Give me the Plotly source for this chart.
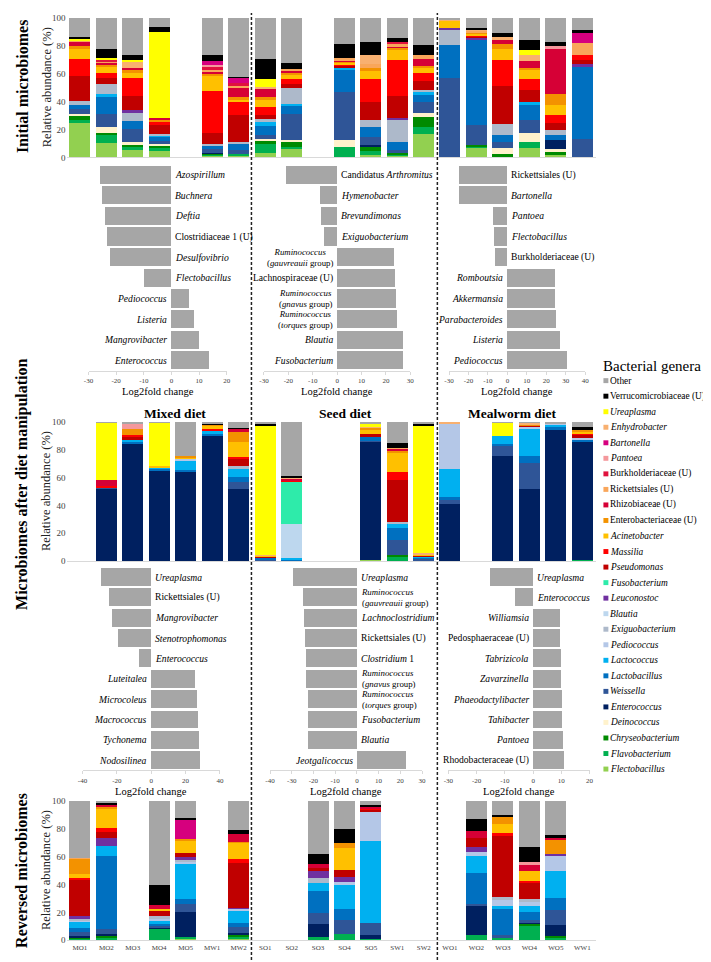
import plotly.graph_objects as go

W, H = 711, 962
FONT = "Liberation Serif, Times New Roman, serif"

# ---------------- genera (stack order bottom -> top) ----------------
GENERA = ["Flec", "Flav", "Chry", "Dein", "Ente", "Weis", "Lacb", "Lacc", "Pedi", "Exig",
          "Blau", "Leuc", "Fuso", "Pseu", "Mass", "Acin", "Entb", "Rhiz", "Rick", "Burk",
          "Pant", "Bart", "Enhy", "Urea", "Verr", "Oth"]
GENUS_NAMES = ["Flectobacillus", "Flavobacterium", "Chryseobacterium", "Deinococcus", "Enterococcus",
               "Weissella", "Lactobacillus", "Lactococcus", "Pediococcus", "Exiguobacterium",
               "Blautia", "Leuconostoc", "Fusobacterium", "Pseudomonas", "Massilia", "Acinetobacter",
               "Enterobacteriaceae (U)", "Rhizobiaceae (U)", "Rickettsiales (U)", "Burkholderiaceae (U)",
               "Pantoea", "Bartonella", "Enhydrobacter", "Ureaplasma", "Verrucomicrobiaceae (U)", "Other"]
GENUS_COLORS = ["#92D050", "#00B050", "#008A00", "#FFF2CC", "#002060", "#2F5597", "#0070C0", "#00B0F0",
                "#B4C7E7", "#ADB9CA", "#BDD7EE", "#7030A0", "#2EEBAA", "#C00000", "#FF0000", "#FFC000",
                "#F39200", "#D60036", "#F9A65A", "#E0123E", "#F4989C", "#D6007E", "#F8B070", "#FFFF00",
                "#000000", "#A6A6A6"]

SLOTS_MIXED = ["MO1", "MO2", "MO3", "MO4", "MO5", "MW1", "MW2"]
SLOTS_SEED = ["SO1", "SO2", "SO3", "SO4", "SO5", "SW1", "SW2"]
SLOTS_MEAL = ["WO1", "WO2", "WO3", "WO4", "WO5", "WW1"]

# ---------------- relative abundance (%) ----------------
initial = {
    "MO1": dict(Flec=25, Flav=2, Chry=3, Dein=1.5, Weis=3, Lacb=3, Exig=2.7, Pseu=18.4, Mass=11.8, Acin=7.1,
                Entb=2.4, Rhiz=3.3, Rick=1, Urea=0.9, Verr=1.4, Oth=13.5),
    "MO2": dict(Flec=10.6, Flav=5.9, Chry=1.4, Dein=4, Weis=9.5, Lacb=11.8, Lacc=2.4, Exig=7.1, Pseu=4, Mass=3.5,
                Acin=4.8, Entb=1.5, Rhiz=1.5, Rick=1, Burk=1, Urea=1, Verr=7, Oth=22),
    "MO3": dict(Flec=5.4, Flav=2.4, Chry=1.6, Dein=1.4, Weis=9.5, Lacb=5.9, Exig=5.9, Leuc=1.6, Pseu=10.2, Mass=13,
                Acin=3.5, Entb=2.4, Rhiz=1.6, Enhy=4.7, Urea=0.7, Verr=3.5, Oth=26.7),
    "MO4": dict(Flec=5, Flav=2, Chry=1.5, Dein=1.5, Weis=2, Lacb=3, Lacc=1, Exig=1, Pseu=6, Mass=3, Entb=1, Rhiz=1,
                Urea=62, Verr=3.5, Oth=6.5),
    "MW1": dict(Flec=1.4, Flav=1, Chry=0.5, Ente=0.5, Weis=2.5, Lacb=2, Exig=1.5, Pseu=8, Mass=30.6, Acin=10.6,
                Entb=1.4, Rhiz=1.5, Rick=1, Burk=2, Pant=2, Bart=3, Verr=3.8, Oth=26.7),
    "MW2": dict(Flec=1.4, Flav=1, Weis=3, Lacb=4.7, Exig=1, Pseu=19.7, Mass=9.5, Acin=1.4, Entb=1.3, Rhiz=7, Rick=1.5,
                Burk=2, Bart=3.5, Verr=1, Oth=42),
    "SO1": dict(Flec=3, Flav=7, Chry=2.4, Dein=1, Weis=2.4, Lacb=7, Lacc=2.8, Exig=1.9, Pseu=3, Mass=6, Acin=4.5,
                Entb=2.5, Rhiz=6, Enhy=1, Urea=6, Verr=14, Oth=29.5),
    "SO2": dict(Flec=6.6, Flav=1.2, Chry=3, Dein=1.6, Weis=19, Lacb=5.9, Lacc=1.2, Exig=11, Pseu=3, Mass=4, Acin=3,
                Entb=1.2, Rhiz=2, Rick=0.5, Verr=4.3, Oth=32.5),
    "SO4": dict(Flav=7.8, Dein=4.7, Weis=34.3, Lacb=16.5, Lacc=1, Pseu=1, Mass=1.5, Acin=1, Entb=1, Rhiz=1, Rick=1.2,
                Verr=10, Oth=19),
    "SO5": dict(Flec=1.9, Flav=2.4, Chry=3.5, Ente=1.2, Weis=5.9, Lacb=7, Exig=4.7, Pseu=13.5, Mass=16.5, Acin=5.4,
                Entb=2.4, Rick=2.4, Enhy=7, Verr=8.7, Oth=17.5),
    "SW1": dict(Flec=1.4, Flav=1, Chry=0.7, Weis=2.4, Lacb=5.9, Exig=16, Leuc=1, Pseu=16, Mass=25.3, Acin=7.3,
                Entb=1.7, Rhiz=1.2, Rick=1.2, Burk=1.7, Verr=3, Oth=14.2),
    "SW2": dict(Flec=16.5, Flav=5.4, Chry=7, Dein=3, Weis=7.6, Lacb=5.9, Lacc=1.2, Exig=1.9, Pseu=6.4, Mass=5.4,
                Acin=4, Entb=1.2, Rhiz=5.2, Rick=3, Verr=7, Oth=19.3),
    "WO1": dict(Flec=0.7, Weis=56, Lacb=23.6, Exig=11.8, Leuc=0.7, Acin=5.4, Enhy=0.3, Oth=1.5),
    "WO2": dict(Flec=6.6, Flav=1.5, Chry=0.5, Weis=14.7, Lacb=61, Lacc=0.5, Leuc=1, Pseu=0.8, Mass=1.2, Acin=1,
                Entb=1, Rick=1.2, Enhy=1, Verr=1, Oth=7),
    "WO3": dict(Chry=2.4, Dein=4.3, Weis=4.7, Lacb=4.7, Exig=7.6, Pseu=27.4, Mass=18.7, Acin=7.8, Entb=3.5, Rhiz=2.8,
                Enhy=2.6, Verr=2.4, Oth=11.1),
    "WO4": dict(Flec=6.6, Flav=4.7, Dein=6.6, Weis=8.7, Lacb=11.1, Lacc=2.4, Pseu=8.5, Mass=8, Acin=6.6, Entb=1.2,
                Rhiz=4.7, Enhy=4.7, Urea=3.5, Verr=6.6, Oth=16.1),
    "WO5": dict(Flec=2.4, Chry=1.4, Dein=2.4, Ente=6.4, Lacb=3.5, Exig=3.5, Pseu=5.4, Mass=5.7, Acin=7.1, Entb=7.8,
                Rhiz=31.9, Pant=2.4, Verr=2.8, Oth=17.3),
    "WW1": dict(Flav=0.7, Weis=12.3, Lacb=52, Leuc=1.9, Pseu=3, Mass=3.3, Rick=8.5, Bart=7.6, Verr=2.4, Oth=8.3),
}

after_diet = {
    "MO2": dict(Ente=52, Weis=0.8, Lacb=0.4, Mass=0.8, Rhiz=4.5, Urea=41, Oth=0.5),
    "MO3": dict(Ente=84.2, Lacb=1.5, Lacc=1, Pseu=3, Mass=0.5, Entb=4.7, Pant=4.3, Oth=0.8),
    "MO4": dict(Ente=64.9, Lacb=1.6, Lacc=1, Acin=1, Urea=31, Oth=0.5),
    "MO5": dict(Ente=64, Lacb=1.6, Lacc=6.8, Pedi=1.2, Pseu=0.5, Acin=0.7, Entb=0.7, Oth=24.5),
    "MW1": dict(Ente=90, Lacb=1.2, Lacc=2.8, Mass=0.6, Acin=2, Entb=1.6, Rhiz=0.3, Verr=0.5, Oth=1),
    "MW2": dict(Ente=51.9, Weis=4.7, Lacb=4, Lacc=6.4, Exig=1.2, Pseu=5.9, Mass=0.5, Acin=11, Entb=7, Rhiz=2.5,
                Verr=0.6, Oth=4.3),
    "SO1": dict(Weis=1, Lacb=1.8, Pseu=0.5, Mass=0.5, Acin=0.5, Enhy=0.5, Urea=92, Verr=1.7, Oth=1.5),
    "SO2": dict(Flec=0.5, Lacb=0.5, Lacc=1.5, Blau=24, Fuso=30.7, Mass=1, Rhiz=1.3, Enhy=0.5, Verr=1, Oth=39),
    "SO5": dict(Flec=0.7, Ente=85, Weis=0.5, Lacb=2.8, Pseu=2.4, Acin=3.5, Entb=1.4, Enhy=0.7, Urea=1, Oth=2),
    "SW1": dict(Flav=2.8, Chry=1.9, Weis=10.4, Lacb=9, Lacc=3.5, Exig=0.7, Pseu=30, Mass=5.9, Acin=13.7, Entb=1.6,
                Rhiz=1.2, Rick=0.7, Verr=3.5, Oth=15.1),
    "SW2": dict(Flec=0.5, Weis=0.8, Lacb=1.5, Lacc=0.5, Pseu=0.8, Mass=0.5, Acin=0.5, Enhy=1, Urea=91.5, Verr=1.4,
                Oth=1),
    "WO1": dict(Flav=0.5, Ente=40.5, Weis=3.8, Lacb=1, Lacc=20, Pedi=32.5, Enhy=1.7),
    "WO3": dict(Ente=75.5, Weis=7.1, Lacb=1.6, Lacc=5.9, Urea=9.4, Oth=0.5),
    "WO4": dict(Ente=51.9, Weis=18.2, Lacb=5.4, Lacc=19.8, Pedi=1.4, Pseu=0.9, Entb=0.9, Enhy=1, Oth=0.5),
    "WO5": dict(Ente=94.3, Lacb=1.6, Lacc=2.4, Pedi=0.7, Oth=1),
    "WW1": dict(Flav=1, Ente=84.9, Lacb=1.4, Pedi=1, Pseu=1.9, Mass=1.9, Acin=1.4, Entb=1, Verr=1.4, Oth=4.1),
}

reversed_mb = {
    "MO1": dict(Flav=1.2, Chry=0.7, Ente=1, Weis=3, Lacb=2.8, Lacc=4.3, Pedi=1.7, Exig=1.2, Leuc=1.2, Pseu=26.3,
                Mass=1, Acin=3, Entb=11.4, Rick=0.5, Oth=40.7),
    "MO2": dict(Flav=2.4, Chry=1.2, Ente=1.2, Weis=3.6, Lacb=51.7, Lacc=7.1, Leuc=5.9, Pseu=4.5, Mass=3.1, Acin=13.7,
                Entb=1, Rhiz=1.9, Verr=1.2, Oth=1.5),
    "MO4": dict(Flav=8.3, Ente=1.2, Weis=1.2, Lacb=1.2, Lacc=2.4, Pedi=1.2, Exig=1.7, Pseu=3.6, Acin=1.9, Rhiz=2.4,
                Verr=14.2, Oth=60.7),
    "MO5": dict(Flec=1.2, Flav=1.2, Ente=17.8, Weis=5.9, Lacb=3.6, Lacc=24.9, Pedi=1.7, Exig=1.2, Leuc=2.4, Pseu=2.4,
                Acin=9.5, Entb=0.7, Bart=14.2, Verr=1.2, Oth=12.1),
    "MW2": dict(Flec=1.2, Flav=1.2, Chry=1.9, Ente=1, Weis=4.3, Lacb=2.8, Lacc=9, Pedi=1.2, Leuc=0.7, Pseu=31.8,
                Mass=3.1, Acin=11.8, Entb=0.7, Rhiz=5.2, Verr=2.8, Oth=21.3),
    "SO3": dict(Flav=2.4, Ente=9.5, Weis=7.6, Lacb=16.1, Lacc=5.5, Exig=3.3, Leuc=5.9, Pseu=1.2, Rhiz=3.1, Verr=7.1,
                Oth=38.3),
    "SO4": dict(Flav=4.7, Weis=10, Lacb=7.8, Lacc=17.3, Pedi=1.7, Leuc=3.6, Pseu=5.2, Acin=15.6, Entb=4, Verr=10,
                Oth=20.1),
    "SO5": dict(Flav=1.2, Ente=2.8, Weis=8.5, Lacc=58.5, Pedi=21.8, Pseu=1, Mass=1, Rhiz=1, Verr=0.8, Oth=3.4),
    "WO2": dict(Flav=3.6, Ente=20.6, Weis=1.9, Lacb=21.8, Lacc=12.6, Pedi=2.4, Leuc=3.6, Pseu=7.1, Rhiz=4.7, Verr=8.3,
                Oth=13.4),
    "WO3": dict(Flav=1.9, Weis=2.1, Lacb=18.5, Lacc=1.7, Pedi=4.3, Exig=2.4, Pseu=43.8, Mass=2.4, Acin=6.4, Entb=4.7,
                Verr=1.9, Oth=9.9),
    "WO4": dict(Flav=10.7, Chry=1.2, Ente=0.7, Weis=1.7, Lacb=5.9, Lacc=4.7, Pedi=2.4, Exig=2.4, Pseu=11.8, Mass=1.2,
                Acin=7.1, Rhiz=4, Pant=2.4, Verr=10.9, Oth=32.9),
    "WO5": dict(Flav=1.9, Chry=1.2, Ente=7.6, Weis=11.1, Lacb=8.5, Lacc=19, Pedi=11.8, Leuc=1, Entb=9.5, Rhiz=1.9,
                Verr=1.7, Oth=24.8),
}

# ---------------- log2 fold change ----------------
lfc_init_mixed_names = ["Azospirillum", "Buchnera", "Deftia", "Clostridiaceae 1 (U)", "Desulfovibrio",
                        "Flectobacillus", "Pediococcus", "Listeria", "Mangrovibacter", "Enterococcus"]
lfc_init_mixed = [-25.7, -25.0, -24.2, -23.5, -22.3, -9.9, 6.3, 8.0, 9.8, 13.7]

lfc_init_seed_names = ["Candidatus Arthromitus", "Hymenobacter", "Brevundimonas", "Exiguobacterium",
                       "Ruminococcus (gauvreauii group)", "Lachnospiraceae (U)", "Ruminococcus (gnavus group)",
                       "Ruminococcus (torques group)", "Blautia", "Fusobacterium"]
lfc_init_seed = [-20.9, -7.1, -6.7, -5.4, 23.4, 23.6, 24.2, 24.6, 26.8, 27.0]

lfc_init_meal_names = ["Rickettsiales (U)", "Bartonella", "Pantoea", "Flectobacillus", "Burkholderiaceae (U)",
                       "Romboutsia", "Akkermansia", "Parabacteroides", "Listeria", "Pediococcus"]
lfc_init_meal = [-25.0, -25.0, -7.6, -7.0, -6.6, 24.2, 24.2, 25.2, 26.9, 30.6]

lfc_diet_mixed_names = ["Ureaplasma", "Rickettsiales (U)", "Mangrovibacter", "Stenotrophomonas", "Enterococcus",
                        "Luteitalea", "Microcoleus", "Macrococcus", "Tychonema", "Nodosilinea"]
lfc_diet_mixed = [-29.3, -24.3, -23.0, -19.2, -6.9, 25.5, 26.4, 27.0, 27.8, 28.3]

lfc_diet_seed_names = ["Ureaplasma", "Ruminococcus (gauvreauii group)", "Lachnoclostridium", "Rickettsiales (U)",
                       "Clostridium 1", "Ruminococcus (gnavus group)", "Ruminococcus (torques group)",
                       "Fusobacterium", "Blautia", "Jeotgalicoccus"]
lfc_diet_seed = [-29.2, -25.0, -24.2, -23.8, -23.5, -23.3, -22.7, -22.4, -22.4, 22.7]

lfc_diet_meal_names = ["Ureaplasma", "Enterococcus", "Williamsia", "Pedosphaeraceae (U)", "Tabrizicola",
                       "Zavarzinella", "Phaeodactylibacter", "Tahibacter", "Pantoea", "Rhodobacteraceae (U)"]
lfc_diet_meal = [-15.4, -6.4, 9.5, 9.6, 9.8, 9.9, 10.2, 10.3, 10.5, 10.9]

# ---------------- helpers ----------------
fig = go.Figure()
layout_axes = {}
annotations = []
shapes = []
counter = [0]


def px_x(v):
    return v / W


def px_y(v):
    return 1 - v / H


def add_axes(xd, yd, xopts, yopts):
    counter[0] += 1
    n = counter[0]
    s = "" if n == 1 else str(n)
    layout_axes["xaxis" + s] = dict(domain=[px_x(xd[0]), px_x(xd[1])], anchor="y" + s, **xopts)
    layout_axes["yaxis" + s] = dict(domain=[px_y(yd[1]), px_y(yd[0])], anchor="x" + s, **yopts)
    return "x" + s, "y" + s


def is_italic(name):
    return not (name.endswith("(U)") or name == "Other")


def label_html(name):
    if name.startswith("Ruminococcus ("):
        inner = name[len("Ruminococcus ("):-1].split(" ")
        return "<i>Ruminococcus</i><br>(<i>%s</i> %s)" % (inner[0], inner[1])
    if name.startswith("Candidatus "):
        return "Candidatus <i>%s</i>" % name.split(" ", 1)[1]
    if name == "Clostridium 1":
        return "<i>Clostridium</i> 1"
    if name.endswith("(U)"):
        return name
    return "<i>%s</i>" % name


GRAY_LINE = "#D9D9D9"
TICK_COL = "#404040"


def bar_panel(data, slots, xd, yd, show_y, show_x):
    xopts = dict(type="category", categoryorder="array", categoryarray=slots,
                 range=[-0.5, len(slots) - 0.5], showline=True, linecolor=GRAY_LINE, linewidth=1,
                 ticks="", showgrid=False, zeroline=False, showticklabels=show_x,
                 tickfont=dict(family=FONT, size=7, color=TICK_COL), fixedrange=True)
    yopts = dict(range=[0, 100], tickvals=[0, 20, 40, 60, 80, 100], showticklabels=show_y,
                 showgrid=False, zeroline=False, showline=False, ticks="",
                 tickfont=dict(family=FONT, size=9, color=TICK_COL), fixedrange=True)
    xa, ya = add_axes(xd, yd, xopts, yopts)
    for code, name, col in zip(GENERA, GENUS_NAMES, GENUS_COLORS):
        vals = [data.get(s, {}).get(code, 0) for s in slots]
        if not any(vals):
            continue
        fig.add_trace(go.Bar(x=slots, y=vals, name=name, width=0.8,
                             marker=dict(color=col, line=dict(width=0)),
                             xaxis=xa, yaxis=ya, showlegend=False,
                             hovertemplate="%{x}: %{y}%<extra>" + name + "</extra>"))


def lfc_panel(names, vals, xd, yd, xrange, step):
    tv = list(range(xrange[0], xrange[1] + 1, step))
    xopts = dict(range=xrange, tickvals=tv, ticktext=[str(t) for t in tv], showline=True,
                 linecolor=GRAY_LINE, linewidth=1, ticks="outside", ticklen=3, tickcolor=GRAY_LINE,
                 showgrid=False, zeroline=False, tickfont=dict(family=FONT, size=7, color=TICK_COL),
                 fixedrange=True)
    yopts = dict(type="category", categoryorder="array", categoryarray=names,
                 range=[len(names) - 0.5, -0.5], showticklabels=False, showgrid=False,
                 zeroline=False, showline=False, ticks="", fixedrange=True)
    xa, ya = add_axes(xd, yd, xopts, yopts)
    fig.add_trace(go.Bar(x=vals, y=names, orientation="h", width=0.88,
                         marker=dict(color="#A6A6A6", line=dict(width=0)),
                         xaxis=xa, yaxis=ya, showlegend=False,
                         hovertemplate="%{y}: %{x}<extra></extra>"))
    for nm, v in zip(names, vals):
        two = nm.startswith("Ruminococcus (")
        annotations.append(dict(
            xref=xa, yref=ya, x=0, y=nm, text=label_html(nm), showarrow=False,
            xanchor="left" if v < 0 else "right", xshift=2 if v < 0 else -2,
            align="left" if v < 0 else "center", yanchor="middle",
            font=dict(family=FONT, size=8.8 if two else 9.6, color="black")))
    annotations.append(dict(xref="paper", yref="paper", x=px_x((xd[0] + xd[1]) / 2),
                            y=px_y(yd[1] + 21), text="Log2fold change", showarrow=False,
                            xanchor="center", yanchor="middle",
                            font=dict(family=FONT, size=10.5, color="black")))


# ---------------- layout geometry (pixels) ----------------
XL, XM, XR = (54.3, 241.9), (242.1, 429.4), (429.1, 590.0)
ROW1, ROW2, ROW3 = (5, 146), (413, 554), (796, 937)

# Row 1: initial microbiomes
bar_panel(initial, SLOTS_MIXED, XL, ROW1, True, False)
bar_panel(initial, SLOTS_SEED, XM, ROW1, False, False)
bar_panel(initial, SLOTS_MEAL, XR, ROW1, False, False)

LFC1 = (152.9, 361.4)
lfc_panel(lfc_init_mixed_names, lfc_init_mixed, (76.5, 216.5), LFC1, [-30, 20], 10)
lfc_panel(lfc_init_seed_names, lfc_init_seed, (254.2, 402.4), LFC1, [-30, 30], 10)
lfc_panel(lfc_init_meal_names, lfc_init_meal, (441.6, 579.6), LFC1, [-30, 40], 10)

# Row 2: after diet manipulation
bar_panel(after_diet, SLOTS_MIXED, XL, ROW2, True, False)
bar_panel(after_diet, SLOTS_SEED, XM, ROW2, False, False)
bar_panel(after_diet, SLOTS_MEAL, XR, ROW2, False, False)

LFC2 = (559.7, 765.3)
lfc_panel(lfc_diet_mixed_names, lfc_diet_mixed, (70.4, 209.6), LFC2, [-40, 40], 20)
lfc_panel(lfc_diet_seed_names, lfc_diet_seed, (260.3, 414.3), LFC2, [-40, 30], 10)
lfc_panel(lfc_diet_meal_names, lfc_diet_meal, (441.0, 584.0), LFC2, [-30, 20], 10)

# Row 3: reversed microbiomes
bar_panel(reversed_mb, SLOTS_MIXED, XL, ROW3, True, True)
bar_panel(reversed_mb, SLOTS_SEED, XM, ROW3, False, True)
bar_panel(reversed_mb, SLOTS_MEAL, XR, ROW3, False, True)


# ---------------- text ----------------
def paper_text(x, y, text, size, bold=False, angle=0, xanchor="center", color="black"):
    annotations.append(dict(xref="paper", yref="paper", x=px_x(x), y=px_y(y),
                            text="<b>%s</b>" % text if bold else text, showarrow=False,
                            textangle=angle, xanchor=xanchor, yanchor="middle",
                            font=dict(family=FONT, size=size, color=color)))


paper_text(9, 74, "Initial microbiomes", 16, bold=True, angle=-90)
paper_text(9, 476, "Microbiomes after diet manipulation", 16, bold=True, angle=-90)
paper_text(9, 866, "Reversed microbiomes", 16, bold=True, angle=-90)
for rr in (ROW1, ROW2, ROW3):
    paper_text(34, (rr[0] + rr[1]) / 2, "Relative abundance (%)", 12.5, angle=-90, color="#222222")

paper_text(164, 405, "Mixed diet", 13.5, bold=True)
paper_text(337, 405, "Seed diet", 13.5, bold=True)
paper_text(506, 405, "Mealworm diet", 13.5, bold=True)

# ---------------- legend (manual, compact) ----------------
paper_text(596, 357, "Bacterial genera", 15, xanchor="left")
legend_order = list(zip(GENUS_NAMES, GENUS_COLORS))[::-1]
for i, (name, col) in enumerate(legend_order):
    yc = 371.5 + 15.7 * i
    shapes.append(dict(type="rect", xref="paper", yref="paper",
                       x0=px_x(598), x1=px_x(603), y0=px_y(yc + 2.5), y1=px_y(yc - 2.5),
                       fillcolor=col, line=dict(width=0)))
    annotations.append(dict(xref="paper", yref="paper", x=px_x(603.5), y=px_y(yc),
                            text="<i>%s</i>" % name if is_italic(name) else name,
                            showarrow=False, xanchor="left", yanchor="middle", borderpad=0,
                            font=dict(family=FONT, size=9.4, color="black")))

# ---------------- dashed separators ----------------
for xv in (241.5, 429.8):
    shapes.append(dict(type="line", xref="paper", yref="paper", x0=px_x(xv), x1=px_x(xv),
                       y0=0, y1=1, line=dict(color="#222222", width=1.5, dash="3px,2px")))

fig.update_layout(
    width=W, height=H, margin=dict(l=0, r=0, t=0, b=0),
    paper_bgcolor="white", plot_bgcolor="white",
    barmode="stack", showlegend=False,
    font=dict(family=FONT, size=10, color="black"),
    annotations=annotations, shapes=shapes,
    **layout_axes,
)

fig.write_html("out.html")
